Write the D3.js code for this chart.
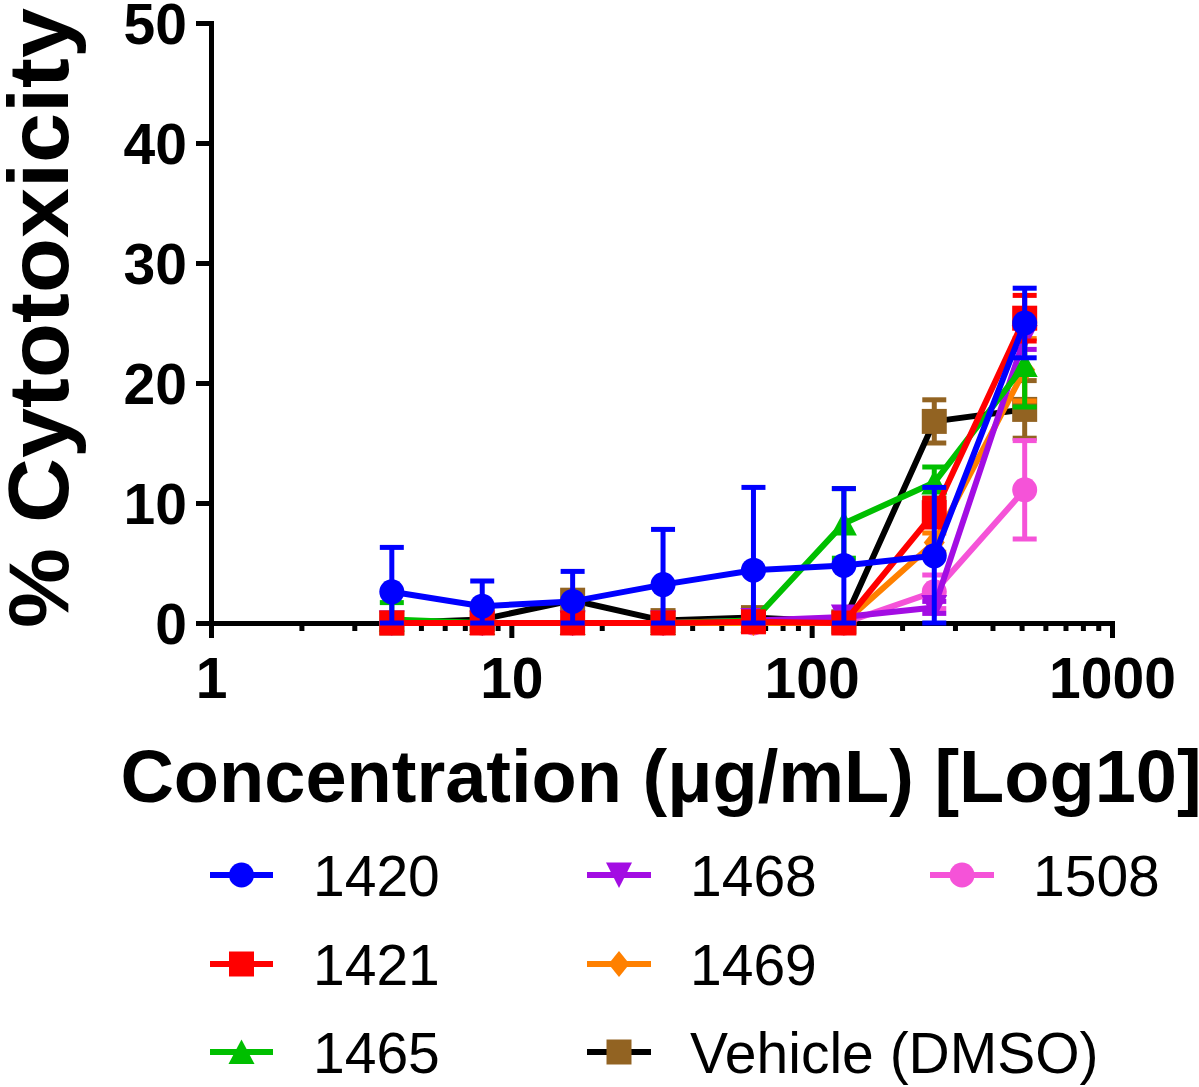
<!DOCTYPE html>
<html>
<head>
<meta charset="utf-8">
<script src="https://cdn.jsdelivr.net/npm/d3@7"></script>
<style>
  html, body { margin: 0; padding: 0; background: #fff; }
  svg { display: block; }
</style>
</head>
<body>
<svg id="chart" width="1199" height="1087"></svg>
<script>
// ---------- data ----------
const concentrations = [4, 8, 16, 32, 64, 128, 256, 512];
const seriesNames = ["1420", "1421", "1465", "1468", "1469", "1508", "Vehicle (DMSO)"];
const mean1420 = [2.6, 1.4, 1.8, 3.2, 4.4, 4.8, 5.6, 25.0];
const sd1420   = [3.7, 2.1, 2.5, 4.6, 6.9, 6.4, 5.7, 2.9];
const mean1421 = [0.0, 0.0, 0.0, 0.0, 0.1, 0.0, 9.2, 25.4];
const sd1421   = [0, 0, 0, 0, 0, 0, 1.2, 1.9];
const mean1465 = [0.3, 0.0, 0.0, 0.0, 0.2, 8.3, 11.7, 21.5];
const sd1465   = [1.4, 0, 0, 0, 0, 2.9, 1.3, 3.5];
const mean1468 = [0.0, 0.0, 0.0, 0.0, 0.2, 0.5, 1.3, 23.8];
const sd1468   = [0, 0, 0, 0, 0, 0, 0.5, 1.0];
const mean1469 = [0.0, 0.0, 0.0, 0.0, 0.0, 0.0, 6.7, 21.1];
const sd1469   = [0, 0, 0, 0, 0, 0, 0.8, 2.6];
const mean1508 = [0.0, 0.0, 0.0, 0.0, 0.0, 0.0, 2.6, 11.1];
const sd1508   = [0, 0, 0, 0, 0, 0, 1.4, 4.1];
const meanVehicle = [0.0, 0.3, 1.9, 0.2, 0.45, 0.1, 16.8, 17.8];
const sdVehicle   = [0, 0, 0, 0, 0, 0, 1.8, 2.4];
const yTicks = [0, 10, 20, 30, 40, 50];
const xMajorTicks = [1, 10, 100, 1000];
const yTitle = "% Cytotoxicity";
const xTitle = "Concentration (\u03BCg/mL) [Log10]";

// ---------- styles ----------
const styles = [
  {line: "#0000FF", fill: "#0000FF", shape: "circle"},
  {line: "#FF0000", fill: "#FF0000", shape: "square"},
  {line: "#00BF00", fill: "#00BF00", shape: "triUp"},
  {line: "#A30DE3", fill: "#A30DE3", shape: "triDown"},
  {line: "#FF8000", fill: "#FF8000", shape: "diamond"},
  {line: "#F553D8", fill: "#F553D8", shape: "circle"},
  {line: "#000000", fill: "#926322", shape: "square"}
];
const means = [mean1420, mean1421, mean1465, mean1468, mean1469, mean1508, meanVehicle];
const sds = [sd1420, sd1421, sd1465, sd1468, sd1469, sd1508, sdVehicle];

const series = seriesNames.map((name, i) => ({
  name, style: styles[i],
  points: concentrations.map((c, j) => ({x: c, y: means[i][j], sd: sds[i][j]}))
}));

const svg = d3.select("#chart");
const x = d3.scaleLog().domain([1, 1000]).range([211, 1112]);
const y = d3.scaleLinear().domain([0, 50]).range([623, 23]);

function symbolPath(shape) {
  switch (shape) {
    case "circle": return "M12.5,0A12.5,12.5,0,1,1,-12.5,0A12.5,12.5,0,1,1,12.5,0Z";
    case "square": return "M-12.5,-12.5H12.5V12.5H-12.5Z";
    case "triUp": return "M0,-12.5L13,12L-13,12Z";
    case "triDown": return "M0,13L13,-12.5L-13,-12.5Z";
    case "diamond": return "M0,-13L10.5,0L0,13L-10.5,0Z";
  }
}

// ---------- axes ----------
const yAxis = d3.axisLeft(y).tickValues(yTicks).tickSize(15).tickSizeOuter(0).tickPadding(9)
  .tickFormat(d3.format("d"));
const gy = svg.append("g").attr("transform", "translate(211,0)").call(yAxis);

const minorTicks = [];
for (let d = 1; d < 1000; d *= 10) for (let k = 2; k <= 9; k++) minorTicks.push(d * k);
const xMinor = d3.axisBottom(x).tickValues(minorTicks).tickSize(8).tickSizeOuter(0).tickFormat("");
const gxm = svg.append("g").attr("transform", "translate(0,623)").call(xMinor);
const xAxis = d3.axisBottom(x).tickValues(xMajorTicks).tickSize(15).tickSizeOuter(0).tickPadding(20)
  .tickFormat(d3.format("d"));
const gx = svg.append("g").attr("transform", "translate(0,623)").call(xAxis);

[gy, gx, gxm].forEach(g => {
  g.selectAll("path.domain").attr("stroke", "#000").attr("stroke-width", 5).attr("stroke-linecap", "square");
  g.selectAll(".tick line").attr("stroke", "#000").attr("stroke-width", 5);
  g.selectAll(".tick text")
    .attr("fill", "#000")
    .style("font-family", "'Liberation Sans', Arial, sans-serif")
    .style("font-weight", "bold")
    .style("font-size", "57px");
});
gy.selectAll(".tick text").attr("dy", "0.36em");

// ---------- titles ----------
svg.append("text")
  .attr("transform", "translate(68,318) rotate(-90)")
  .attr("text-anchor", "middle")
  .attr("textLength", 620)
  .attr("lengthAdjust", "spacingAndGlyphs")
  .style("font-family", "'Liberation Sans', Arial, sans-serif")
  .style("font-weight", "bold")
  .style("font-size", "86px")
  .text(yTitle);

svg.append("text")
  .attr("x", 661).attr("y", 802)
  .attr("text-anchor", "middle")
  .style("font-family", "'Liberation Sans', Arial, sans-serif")
  .style("font-weight", "bold")
  .style("font-size", "74px")
  .text(xTitle);

// ---------- data ----------
const plot = svg.append("g");
const line = d3.line().x(d => x(d.x)).y(d => y(d.y));
series.slice().reverse().forEach(s => {
  const g = plot.append("g");
  s.points.filter(p => p.sd > 0).forEach(p => {
    const top = Math.min(50, p.y + p.sd), bot = Math.max(0, p.y - p.sd);
    g.append("line").attr("x1", x(p.x)).attr("x2", x(p.x)).attr("y1", y(top)).attr("y2", y(bot))
      .attr("stroke", s.style.fill).attr("stroke-width", 5);
    [top, bot].forEach(v => {
      g.append("line").attr("x1", x(p.x) - 12).attr("x2", x(p.x) + 12).attr("y1", y(v)).attr("y2", y(v))
        .attr("stroke", s.style.fill).attr("stroke-width", 5);
    });
  });
  g.append("path").datum(s.points).attr("d", line)
    .attr("fill", "none").attr("stroke", s.style.line).attr("stroke-width", 6)
    .attr("stroke-linejoin", "round");
  g.selectAll("path.sym").data(s.points).join("path").attr("class", "sym")
    .attr("transform", d => `translate(${x(d.x)},${y(d.y)})`)
    .attr("d", symbolPath(s.style.shape))
    .attr("fill", s.style.fill);
});

// ---------- legend ----------
const legendCols = [
  {lx1: 210, lx2: 273, tx: 313},
  {lx1: 587, lx2: 651, tx: 690},
  {lx1: 930, lx2: 994, tx: 1033}
];
const legendRows = [875, 964, 1052];
const legendPos = [[0,0],[0,1],[0,2],[1,0],[1,1],[2,0],[1,2]];
const leg = svg.append("g");
series.forEach((s, i) => {
  const [c, r] = legendPos[i];
  const col = legendCols[c], ry = legendRows[r];
  const g = leg.append("g");
  g.append("line").attr("x1", col.lx1).attr("x2", col.lx2).attr("y1", ry).attr("y2", ry)
    .attr("stroke", s.style.line).attr("stroke-width", 6);
  g.append("path").attr("transform", `translate(${(col.lx1 + col.lx2) / 2},${ry})`)
    .attr("d", symbolPath(s.style.shape)).attr("fill", s.style.fill);
  g.append("text").attr("x", col.tx).attr("y", ry).attr("dy", "0.36em")
    .style("font-family", "'Liberation Sans', Arial, sans-serif")
    .style("font-size", "57px")
    .attr("fill", "#000")
    .text(s.name);
});
</script>
</body>
</html>
